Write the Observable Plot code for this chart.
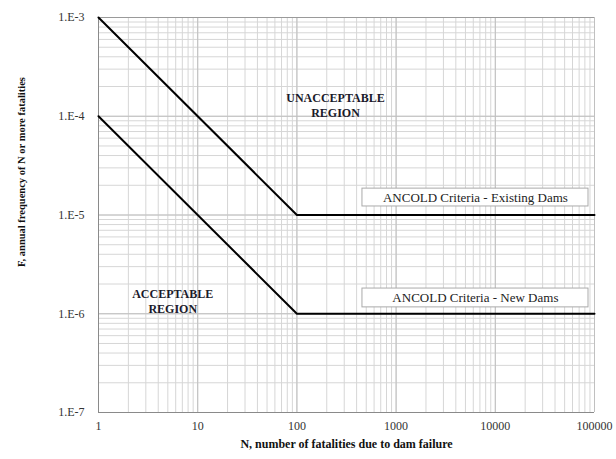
<!DOCTYPE html>
<html>
<head>
<meta charset="utf-8">
<script src="https://cdn.jsdelivr.net/npm/d3@7"></script>
<script src="https://cdn.jsdelivr.net/npm/@observablehq/plot@0.6"></script>
<style>
  html, body { margin: 0; padding: 0; background: #fff; }
  svg { display: block; }
  svg, svg text { font-family: "Liberation Serif", "Times New Roman", serif !important; }
</style>
</head>
<body>
<div id="chart"></div>
<script>
// Data
const xTicks = [1, 10, 100, 1000, 10000, 100000];
const yTicks = [1e-7, 1e-6, 1e-5, 1e-4, 1e-3];
const lineN = [1, 100, 100000];
const existingF = [1e-3, 1e-5, 1e-5];
const newF = [1e-4, 1e-6, 1e-6];
const seriesNames = ["ANCOLD Criteria - Existing Dams", "ANCOLD Criteria - New Dams"];
const regionLabels = ["UNACCEPTABLE\nREGION", "ACCEPTABLE\nREGION"];
const xTitle = "N, number of fatalities due to dam failure";
const yTitle = "F, annual frequency of N or more fatalities";

// minor log grid values (1..9 per decade)
const mult = [1, 2, 3, 4, 5, 6, 7, 8, 9];
const xGrid = [];
for (const d of [1, 10, 100, 1000, 10000]) for (const m of mult) xGrid.push(d * m);
xGrid.push(100000);
const yGrid = [];
for (const d of [1e-7, 1e-6, 1e-5, 1e-4]) for (const m of mult) yGrid.push(d * m);
yGrid.push(1e-3);

const lines = [
  ...lineN.map((n, i) => ({n, f: existingF[i], s: seriesNames[0]})),
  ...lineN.map((n, i) => ({n, f: newF[i], s: seriesNames[1]}))
];

// annotation placement (data space)
const boxes = [
  {x1: 458, x2: 87000, y1: 1.22e-5, y2: 1.85e-5, tx: 6300, ty: 1.5e-5, label: seriesNames[0]},
  {x1: 458, x2: 87000, y1: 1.16e-6, y2: 1.80e-6, tx: 6300, ty: 1.45e-6, label: seriesNames[1]}
];
const regions = [
  {x: 245, y: 1.3e-4, label: regionLabels[0]},
  {x: 5.6, y: 1.35e-6, label: regionLabels[1]}
];

const chart = Plot.plot({
  width: 616,
  height: 459,
  marginLeft: 98,
  marginRight: 22,
  marginTop: 17,
  marginBottom: 47,
  style: {fontSize: "12px", color: "#222", background: "#fff"},
  x: {type: "log", domain: [1, 100000], ticks: xTicks, tickFormat: d => String(d), label: null},
  y: {type: "log", domain: [1e-7, 1e-3], ticks: yTicks, tickFormat: d => "1.E" + Math.round(Math.log10(d)), label: null},
  marks: [
    Plot.ruleX(xGrid, {x: d => d, stroke: "#d6d6d6", strokeWidth: 1}),
    Plot.ruleY(yGrid, {y: d => d, stroke: "#d6d6d6", strokeWidth: 1}),
    Plot.ruleX(xTicks, {x: d => d, stroke: "#c0c0c0", strokeWidth: 1}),
    Plot.ruleY(yTicks, {y: d => d, stroke: "#c0c0c0", strokeWidth: 1}),
    Plot.ruleX([1], {stroke: "#8a8a8a"}),
    Plot.ruleY([1e-7], {stroke: "#8a8a8a"}),
    Plot.ruleY([1e-3], {stroke: "#9a9a9a"}),
    Plot.axisX({ticks: xTicks, tickFormat: d => String(d), tickSize: 0, tickPadding: 9, fontSize: 12, fill: "#333", label: null}),
    Plot.axisY({ticks: yTicks, tickFormat: d => "1.E" + Math.round(Math.log10(d)), tickSize: 0, tickPadding: 14, fontSize: 12, fill: "#333", label: null}),
    Plot.line(lines, {x: "n", y: "f", z: "s", stroke: "#000", strokeWidth: 2}),
    Plot.rect(boxes, {x1: "x1", x2: "x2", y1: "y1", y2: "y2", fill: "#fff", stroke: "#aaa", strokeWidth: 1}),
    Plot.text(boxes, {x: "tx", y: "ty", text: "label", fontSize: 13, fill: "#222"}),
    Plot.text(regions, {x: "x", y: "y", text: "label", fontSize: 12, fontWeight: "bold", fill: "#1a1a2a", lineHeight: 1.25}),
    Plot.text([xTitle], {frameAnchor: "bottom", textAnchor: "middle", dy: 35, fontSize: 12, fontWeight: "bold", fill: "#111"}),
    Plot.text([yTitle], {frameAnchor: "left", textAnchor: "middle", lineAnchor: "middle", dx: -77, dy: -43, rotate: -90, fontSize: 10.5, fontWeight: "bold", fill: "#111"})
  ]
});
document.getElementById("chart").appendChild(chart);
</script>
</body>
</html>
